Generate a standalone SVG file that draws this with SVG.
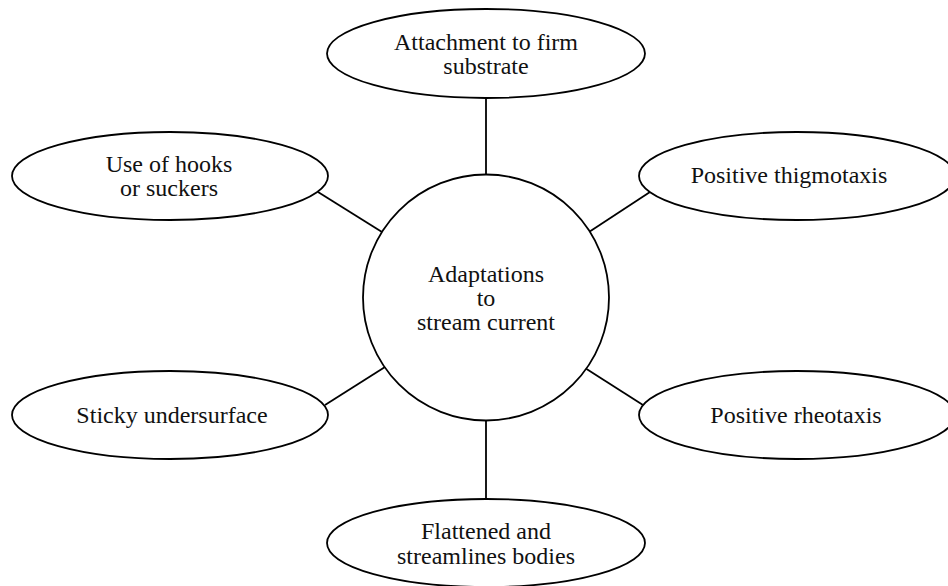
<svg xmlns="http://www.w3.org/2000/svg" width="948" height="586" viewBox="0 0 948 586">
<style>
.n{fill:#fff;stroke:#000;stroke-width:1.8}
.c line{stroke:#000;stroke-width:1.8}
text{font-family:'Liberation Serif','Times New Roman',Times,'DejaVu Serif',serif;font-size:24px;fill:#111;text-anchor:middle}
</style>
<rect width="948" height="586" fill="#fff"/>
<g class="c" id="connectors">
<line x1="486" y1="98" x2="486" y2="175"/>
<line x1="318" y1="192" x2="382" y2="232"/>
<line x1="650" y1="192" x2="589" y2="232"/>
<line x1="325" y1="405" x2="385" y2="367"/>
<line x1="643" y1="405" x2="585" y2="368"/>
<line x1="486" y1="420" x2="486" y2="499"/>
</g>
<g id="center">
<circle class="n" cx="486" cy="297.5" r="123"/>
<text x="486" y="282">Adaptations</text>
<text x="486" y="306">to</text>
<text x="486" y="330">stream current</text>
</g>
<g id="top">
<ellipse class="n" cx="486" cy="53.5" rx="159" ry="44.5"/>
<text x="486" y="50">Attachment to firm</text>
<text x="486" y="74">substrate</text>
</g>
<g id="topleft">
<ellipse class="n" cx="170" cy="176" rx="158" ry="44"/>
<text x="169" y="172">Use of hooks</text>
<text x="169" y="196">or suckers</text>
</g>
<g id="topright">
<ellipse class="n" cx="797" cy="176" rx="158" ry="44"/>
<text x="789" y="183">Positive thigmotaxis</text>
</g>
<g id="bottomleft">
<ellipse class="n" cx="170" cy="415" rx="158" ry="44"/>
<text x="172" y="423">Sticky undersurface</text>
</g>
<g id="bottomright">
<ellipse class="n" cx="797" cy="415" rx="158" ry="44"/>
<text x="796" y="423">Positive rheotaxis</text>
</g>
<g id="bottom">
<ellipse class="n" cx="486" cy="543" rx="159" ry="44"/>
<text x="486" y="539">Flattened and</text>
<text x="486" y="564">streamlines bodies</text>
</g>
</svg>
